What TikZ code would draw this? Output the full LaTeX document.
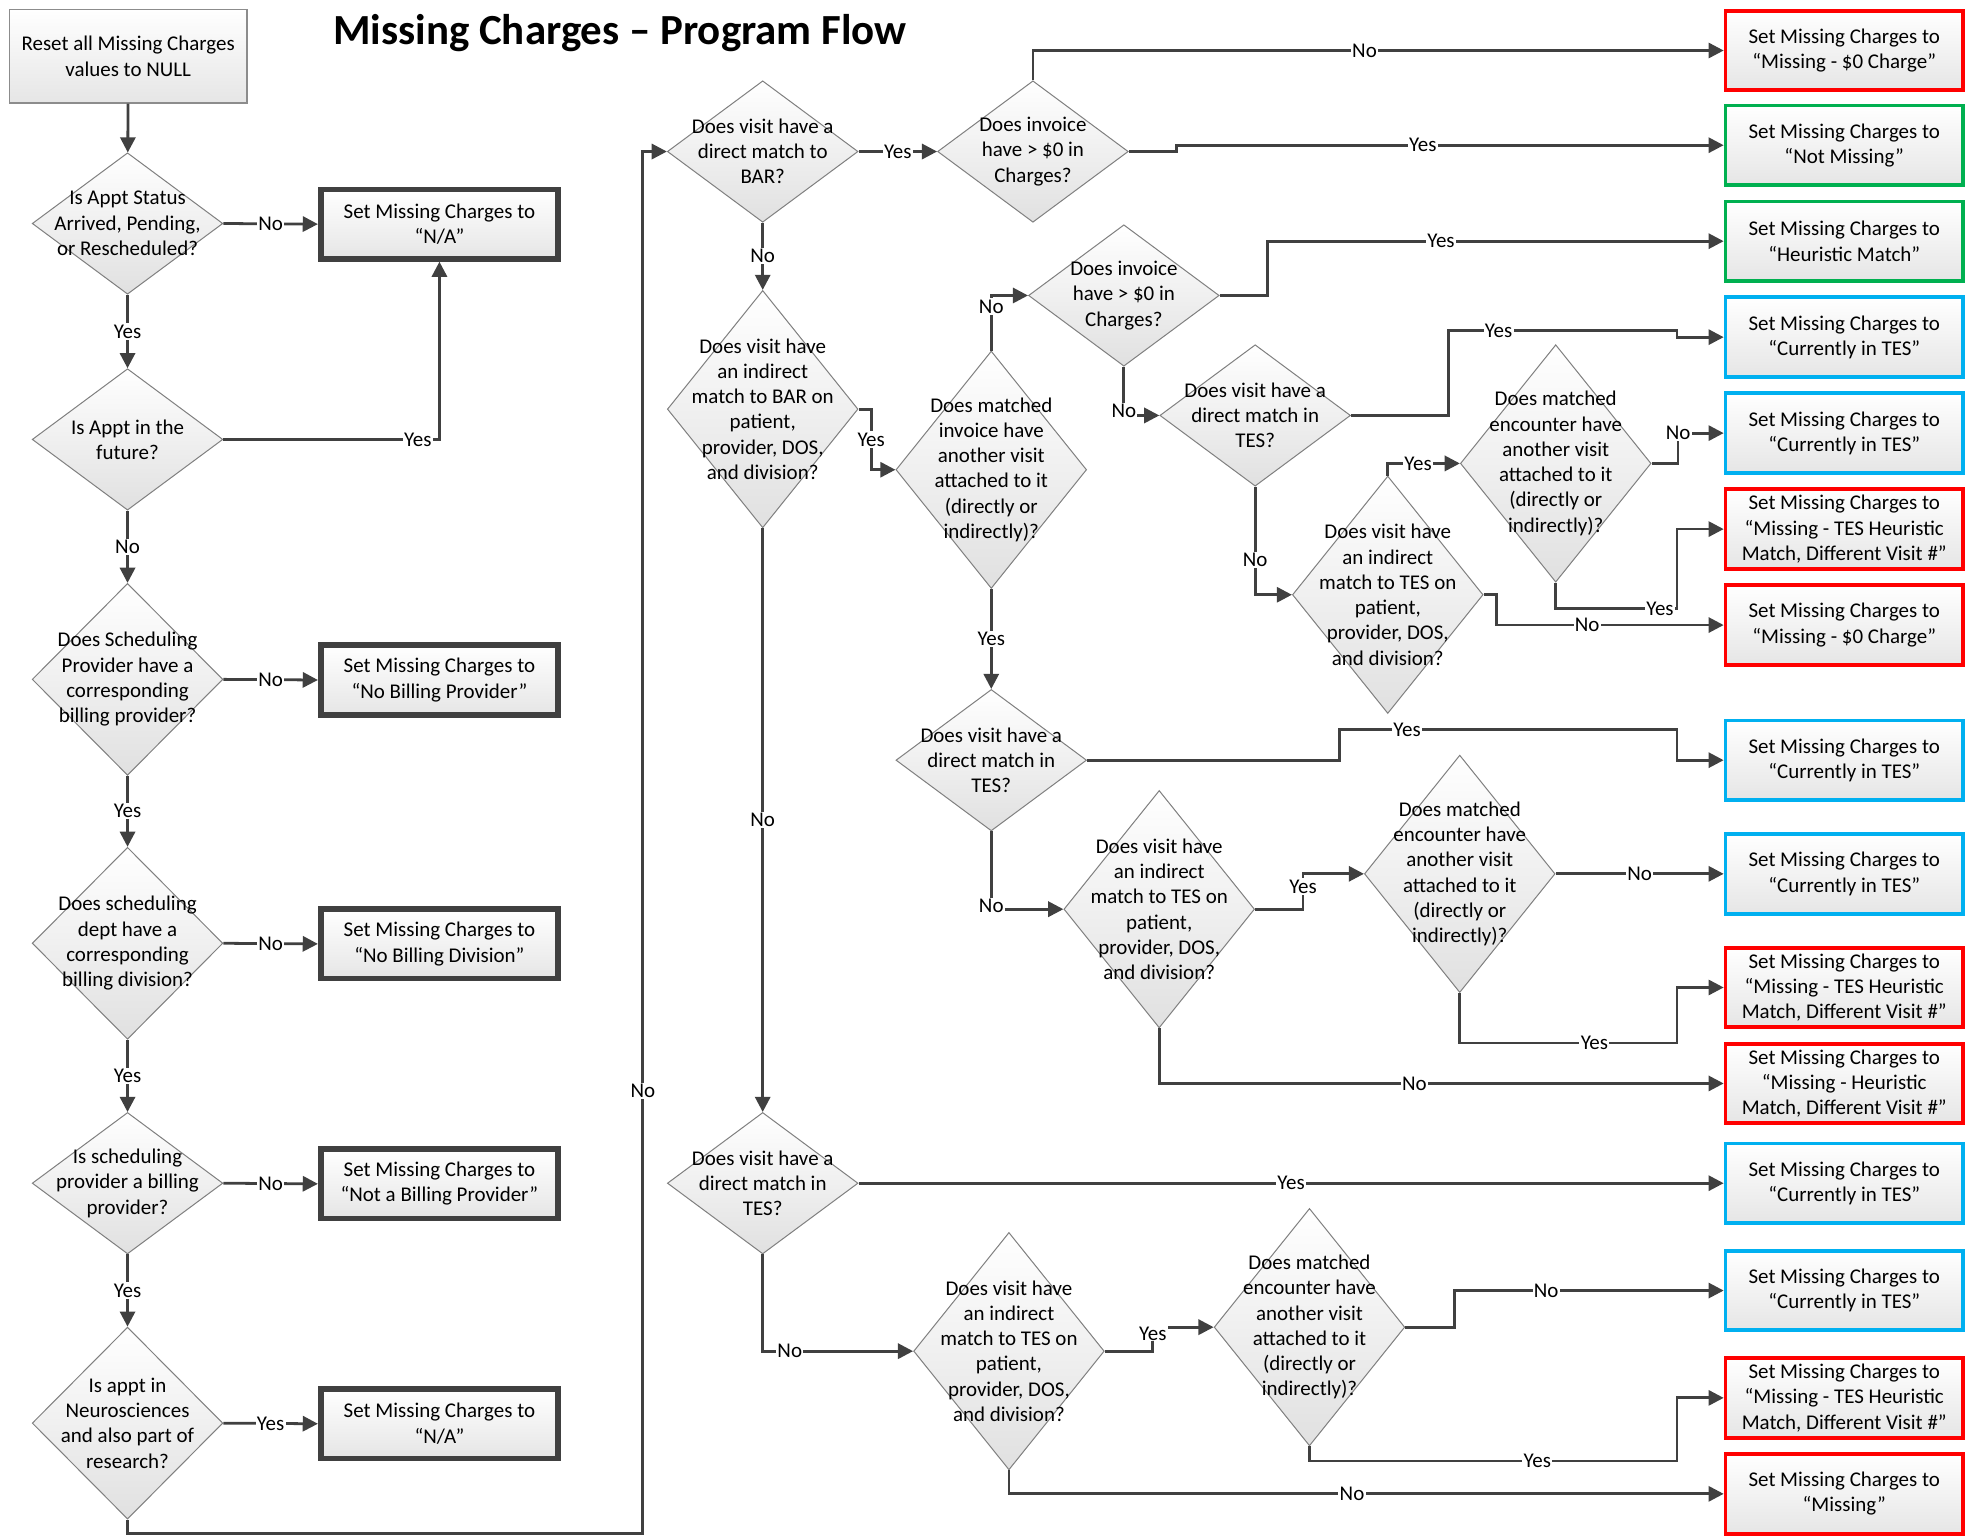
\documentclass[tikz,border=0pt]{standalone}
\usepackage{fontspec}
\setmainfont{Carlito}
\usetikzlibrary{arrows.meta,shapes.geometric,calc}
\colorlet{mygrey}{black!75}
\colorlet{edgegrey}{black!50}
\definecolor{stopred}{RGB}{255,0,0}
\definecolor{okgreen}{RGB}{0,176,80}
\definecolor{tesblue}{RGB}{0,176,240}

\begin{document}
\begin{tikzpicture}[x=1pt,y=-1pt,
    every node/.style={font=\fontsize{16.6}{20}\selectfont},
    flow/.style={draw=mygrey,line width=2.2pt,-{Triangle[length=12pt,width=12pt]}},
    lbl/.style={fill=white,inner sep=1pt},
    decision/.style={diamond,draw=edgegrey,line width=0.8pt,top color=white,bottom color=black!12,minimum width=151pt,minimum height=112pt,inner sep=0pt},
    mid/.style={decision,minimum height=152pt},
    tall/.style={decision,minimum height=188pt},
    qtext/.style={align=center,inner sep=0pt},
    start/.style={rectangle,draw=black!45,line width=1.2pt,top color=white,bottom color=black!10,minimum width=188pt,minimum height=74pt,align=center},
    stop/.style={rectangle,draw=mygrey,line width=4.5pt,top color=white,bottom color=black!10,minimum width=188pt,minimum height=55pt,align=center,inner sep=0pt},
    result/.style={rectangle,line width=3pt,top color=white,bottom color=black!10,minimum width=188pt,minimum height=63pt,align=center,inner sep=0pt}
]

\useasboundingbox (0,0) rectangle (1568,1217);

\node[font=\fontsize{34}{40}\bfseries\selectfont] (title) at (491,26) {Missing Charges – Program Flow};

\node[start] (reset) at (101.5,44.5) {Reset all Missing Charges\\values to NULL};

\node[decision] (d1) at (101,177) {};
\node[qtext] (d1t) at (d1) {Is Appt Status\\Arrived, Pending,\\or Rescheduled?};
\node[stop] (na1) at (348,177.5) {Set Missing Charges to\\“N/A”};

\node[decision] (d2) at (101,348) {};
\node[qtext] (d2t) at (d2) {Is Appt in the\\future?};

\node[mid] (d3) at (101,538) {};
\node[qtext] (d3t) at (d3) {Does Scheduling\\Provider have a\\corresponding\\billing provider?};
\node[stop] (nbp) at (348,538.5) {Set Missing Charges to\\“No Billing Provider”};

\node[mid] (d4) at (101,747) {};
\node[qtext] (d4t) at (d4) {Does scheduling\\dept have a\\corresponding\\billing division?};
\node[stop] (nbd) at (348,747.5) {Set Missing Charges to\\“No Billing Division”};

\node[decision] (d5) at (101,937) {};
\node[qtext] (d5t) at (d5) {Is scheduling\\provider a billing\\provider?};
\node[stop] (nab) at (348,937.5) {Set Missing Charges to\\“Not a Billing Provider”};

\node[mid] (d6) at (101,1127) {};
\node[qtext] (d6t) at (d6) {Is appt in\\Neurosciences\\and also part of\\research?};
\node[stop] (na2) at (348,1127.5) {Set Missing Charges to\\“N/A”};

\node[decision] (d7) at (604,120) {};
\node[qtext] (d7t) at (d7) {Does visit have a\\direct match to\\BAR?};
\node[decision] (d8) at (818,120) {};
\node[qtext] (d8t) at (d8) {Does invoice\\have > \$0 in\\Charges?};
\node[tall] (d9) at (604,324) {};
\node[qtext] (d9t) at (d9) {Does visit have\\an indirect\\match to BAR on\\patient,\\provider, DOS,\\and division?};
\node[tall] (d10) at (785,372) {};
\node[qtext] (d10t) at (d10) {Does matched\\invoice have\\another visit\\attached to it\\(directly or\\indirectly)?};
\node[decision] (d11) at (890,234) {};
\node[qtext] (d11t) at (d11) {Does invoice\\have > \$0 in\\Charges?};
\node[decision] (d12) at (994,329) {};
\node[qtext] (d12t) at (d12) {Does visit have a\\direct match in\\TES?};
\node[tall] (d13) at (1099,471) {};
\node[qtext] (d13t) at (d13) {Does visit have\\an indirect\\match to TES on\\patient,\\provider, DOS,\\and division?};
\node[tall] (d14) at (1232,367) {};
\node[qtext] (d14t) at (d14) {Does matched\\encounter have\\another visit\\attached to it\\(directly or\\indirectly)?};
\node[decision] (d15) at (785,602) {};
\node[qtext] (d15t) at (d15) {Does visit have a\\direct match in\\TES?};
\node[tall] (d16) at (918,720) {};
\node[qtext] (d16t) at (d16) {Does visit have\\an indirect\\match to TES on\\patient,\\provider, DOS,\\and division?};
\node[tall] (d17) at (1156,692) {};
\node[qtext] (d17t) at (d17) {Does matched\\encounter have\\another visit\\attached to it\\(directly or\\indirectly)?};
\node[decision] (d18) at (604,937) {};
\node[qtext] (d18t) at (d18) {Does visit have a\\direct match in\\TES?};
\node[tall] (d19) at (799,1070) {};
\node[qtext] (d19t) at (d19) {Does visit have\\an indirect\\match to TES on\\patient,\\provider, DOS,\\and division?};
\node[tall] (d20) at (1037,1051) {};
\node[qtext] (d20t) at (d20) {Does matched\\encounter have\\another visit\\attached to it\\(directly or\\indirectly)?};

\node[result,draw=stopred] (r1) at (1460.5,40) {Set Missing Charges to\\“Missing - \$0 Charge”};
\node[result,draw=okgreen] (r2) at (1460.5,115) {Set Missing Charges to\\“Not Missing”};
\node[result,draw=okgreen] (r3) at (1460.5,191) {Set Missing Charges to\\“Heuristic Match”};
\node[result,draw=tesblue] (r4) at (1460.5,267) {Set Missing Charges to\\“Currently in TES”};
\node[result,draw=tesblue] (r5) at (1460.5,343) {Set Missing Charges to\\“Currently in TES”};
\node[result,draw=stopred] (r6) at (1460.5,419) {Set Missing Charges to\\“Missing - TES Heuristic\\Match, Different Visit \#”};
\node[result,draw=stopred] (r7) at (1460.5,495) {Set Missing Charges to\\“Missing - \$0 Charge”};
\node[result,draw=tesblue] (r8) at (1460.5,602) {Set Missing Charges to\\“Currently in TES”};
\node[result,draw=tesblue] (r9) at (1460.5,692) {Set Missing Charges to\\“Currently in TES”};
\node[result,draw=stopred] (r10) at (1460.5,782) {Set Missing Charges to\\“Missing - TES Heuristic\\Match, Different Visit \#”};
\node[result,draw=stopred] (r11) at (1460.5,858) {Set Missing Charges to\\“Missing - Heuristic\\Match, Different Visit \#”};
\node[result,draw=tesblue] (r12) at (1460.5,937) {Set Missing Charges to\\“Currently in TES”};
\node[result,draw=tesblue] (r13) at (1460.5,1022) {Set Missing Charges to\\“Currently in TES”};
\node[result,draw=stopred] (r14) at (1460.5,1107) {Set Missing Charges to\\“Missing - TES Heuristic\\Match, Different Visit \#”};
\node[result,draw=stopred] (r15) at (1460.5,1183) {Set Missing Charges to\\“Missing”};

\draw[flow] (reset) -- (d1);
\draw[flow] (d1.east) -- node[lbl] (l1) {No} (na1.west);
\draw[flow] (d1.south) -- node[lbl] (l2) {Yes} (d2.north);
\draw[flow] (d2.east) -| node[lbl,pos=0.45] (l3) {Yes} (na1.south);
\draw[flow] (d2.south) -- node[lbl] (l4) {No} (d3.north);
\draw[flow] (d3.east) -- node[lbl] (l5) {No} (nbp.west);
\draw[flow] (d3.south) -- node[lbl] (l6) {Yes} (d4.north);
\draw[flow] (d4.east) -- node[lbl] (l7) {No} (nbd.west);
\draw[flow] (d4.south) -- node[lbl] (l8) {Yes} (d5.north);
\draw[flow] (d5.east) -- node[lbl] (l9) {No} (nab.west);
\draw[flow] (d5.south) -- node[lbl] (l10) {Yes} (d6.north);
\draw[flow] (d6.east) -- node[lbl] (l11) {Yes} (na2.west);
\draw[flow] (d6.south) -- ++(0,11) -| node[lbl,pos=0.66] (l12) {No} ($(d7.west)+(-19,0)$) -- (d7.west);

\draw[flow] (d7.east) -- node[lbl] (l13) {Yes} (d8.west);
\draw[flow] (d8.north) |- node[lbl,pos=0.74] (l14) {No} (r1.west);
\draw[flow] (d8.east) -- ++(38,0) |- node[lbl,pos=0.725] (l15) {Yes} (r2.west);
\draw[flow] (d7.south) -- node[lbl] (l16) {No} (d9.north);
\draw[flow] (d9.east) -- ++(10,0) |- node[lbl,pos=0.25] (l17) {Yes} (d10.west);
\draw[flow] (d10.north) |- node[lbl,pos=0.4] (l18) {No} (d11.west);
\draw[flow] (d11.east) -- ++(38,0) |- node[lbl,pos=0.69] (l19) {Yes} (r3.west);
\draw[flow] (d11.south) |- node[lbl,pos=0.45] (l20) {No} (d12.west);
\draw[flow] (d12.east) -- ++(77,0) |- node[lbl,pos=0.61] (l21) {Yes} ($(r4.west)+(-37,-5)$) |- (r4.west);
\draw[flow] (d12.south) |- node[lbl,pos=0.34] (l22) {No} (d13.west);
\draw[flow] (d13.north) |- node[lbl,pos=0.71] (l23) {Yes} (d14.west);
\draw[flow] (d14.east) -- ++(21,0) |- node[lbl,pos=0.5] (l24) {No} (r5.west);
\draw[flow] (d14.south) |- node[lbl,pos=0.93] (l25) {Yes} ($(r6.west)+(-37,63)$) |- (r6.west);
\draw[flow] (d13.east) -- ++(10,0) |- node[lbl,pos=0.7] (l26) {No} (r7.west);

\draw[flow] (d10.south) -- node[lbl] (l27) {Yes} (d15.north);
\draw[flow] (d15.east) -- ++(200,0) |- node[lbl,pos=0.6] (l28) {Yes} ($(r8.west)+(-37,-24)$) |- (r8.west);
\draw[flow] (d15.south) |- node[lbl,pos=0.48] (l29) {No} (d16.west);
\draw[flow] (d16.east) -- ++(38,0) |- node[lbl,pos=0.32] (l30) {Yes} (d17.west);
\draw[flow] (d17.east) -- node[lbl] (l31) {No} (r9.west);
\draw[flow] (d17.south) |- node[lbl,pos=0.81] (l32) {Yes} ($(r10.west)+(-37,44)$) |- (r10.west);
\draw[flow] (d16.south) |- node[lbl,pos=0.726] (l33) {No} (r11.west);

\draw[flow] (d9.south) -- node[lbl] (l34) {No} (d18.north);
\draw[flow] (d18.east) -- node[lbl] (l35) {Yes} (r12.west);
\draw[flow] (d18.south) |- node[lbl,pos=0.59] (l36) {No} (d19.west);
\draw[flow] (d19.east) -- ++(38,0) |- node[lbl,pos=0.37] (l37) {Yes} (d20.west);
\draw[flow] (d20.east) -- ++(39,0) |- node[lbl,pos=0.67] (l38) {No} (r13.west);
\draw[flow] (d20.south) |- node[lbl,pos=0.81] (l39) {Yes} ($(r14.west)+(-37,50)$) |- (r14.west);
\draw[flow] (d19.south) |- node[lbl,pos=0.74] (l40) {No} (r15.west);

\end{tikzpicture}
\end{document}
